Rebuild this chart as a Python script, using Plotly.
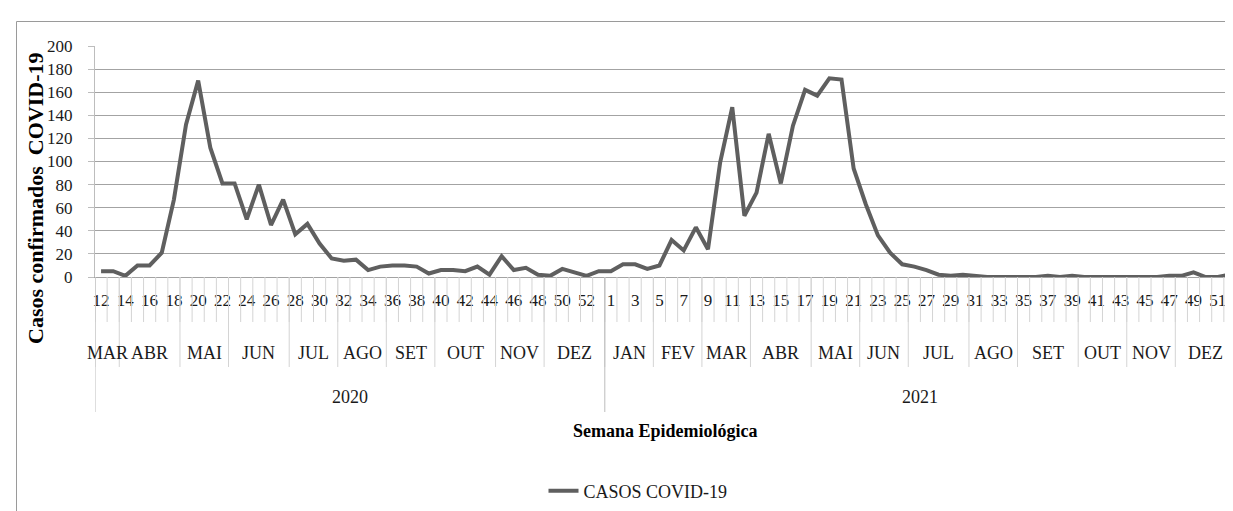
import plotly.graph_objects as go

# ---------------- data ----------------
weeks_2020 = [12, 13, 14, 15, 16, 17, 18, 19, 20, 21, 22, 23, 24, 25, 26, 27, 28, 29, 30, 31,
              32, 33, 34, 35, 36, 37, 38, 39, 40, 41, 42, 43, 44, 45, 46, 47, 48, 49, 50, 51,
              52, 53]
cases_2020 = [5, 5, 1, 10, 10, 21, 67, 132, 170, 112, 81, 81, 50, 80, 45, 67, 37, 46, 29, 16,
              14, 15, 6, 9, 10, 10, 9, 3, 6, 6, 5, 9, 2, 18, 6, 8, 2, 1, 7, 4,
              1, 5]
weeks_2021 = [1, 2, 3, 4, 5, 6, 7, 8, 9, 10, 11, 12, 13, 14, 15, 16, 17, 18, 19, 20,
              21, 22, 23, 24, 25, 26, 27, 28, 29, 30, 31, 32, 33, 34, 35, 36, 37, 38, 39, 40,
              41, 42, 43, 44, 45, 46, 47, 48, 49, 50, 51, 52]
cases_2021 = [5, 11, 11, 7, 10, 32, 23, 43, 24, 99, 147, 53, 73, 124, 81, 131, 162, 157, 172, 171,
              94, 63, 36, 21, 11, 9, 6, 2, 1, 2, 1, 0, 0, 0, 0, 0, 1, 0, 1, 0,
              0, 0, 0, 0, 0, 0, 1, 1, 4, 0, 0, 2]
months_2020 = ["MAR", "ABR", "MAI", "JUN", "JUL", "AGO", "SET", "OUT", "NOV", "DEZ"]
month_weeks_2020 = [2, 5, 4, 5, 4, 4, 4, 5, 4, 5]
months_2021 = ["JAN", "FEV", "MAR", "ABR", "MAI", "JUN", "JUL", "AGO", "SET", "OUT", "NOV", "DEZ"]
month_weeks_2021 = [4, 4, 4, 5, 4, 4, 5, 4, 5, 4, 4, 5]
years = ["2020", "2021"]
series_name = "CASOS COVID-19"
y_ticks = [0, 20, 40, 60, 80, 100, 120, 140, 160, 180, 200]

# ---------------- layout constants ----------------
W, H = 1233, 511
ML, MR, MT, MB = 87, 5, 38, 242
PW, PH = W - ML - MR, H - MT - MB
AXIS_PY = H - MB


def py2paper(py):
    return (AXIS_PY - py) / PH


def px2paper(px):
    return (px - ML) / PW


FONT = "Liberation Serif"
LINE_COLOR = "#5f5f5f"
GRID = "#a3a3a3"
SEP_LIGHT = "#d4d4d4"
SEP_DARK = "#bdbdbd"

y_vals = cases_2020 + cases_2021
x_idx = list(range(len(y_vals)))
week_labels = [str(w) for w in weeks_2020] + [str(w) for w in weeks_2021]

# labelled weeks: every other one inside each year
tickvals, ticktext = [], []
for k, w in enumerate(weeks_2020):
    if k % 2 == 0:
        tickvals.append(k)
        ticktext.append(str(w))
off = len(weeks_2020)
for k, w in enumerate(weeks_2021):
    if k % 2 == 0:
        tickvals.append(off + k)
        ticktext.append(str(w))

fig = go.Figure()
fig.add_trace(go.Scatter(
    x=x_idx, y=y_vals, mode="lines", name=series_name,
    line=dict(color=LINE_COLOR, width=4),
    customdata=week_labels,
    hovertemplate="Semana %{customdata}: %{y}<extra></extra>",
))

shapes = []
annotations = []

# week separators (every category boundary)
for b in range(len(y_vals) + 1):
    shapes.append(dict(type="line", xref="x", yref="paper",
                       x0=b - 0.5, x1=b - 0.5, y0=0, y1=py2paper(314),
                       line=dict(color=SEP_LIGHT, width=1)))

# month labels and separators
start = 0
month_bounds = [0]
for names, counts in ((months_2020, month_weeks_2020), (months_2021, month_weeks_2021)):
    for name, c in zip(names, counts):
        annotations.append(dict(xref="x", yref="paper", x=start + (c - 1) / 2, y=py2paper(345),
                                text=name, showarrow=False, xanchor="center", yanchor="middle",
                                font=dict(family=FONT, size=18, color="#1a1a1a")))
        start += c
        month_bounds.append(start)
for b in month_bounds:
    shapes.append(dict(type="line", xref="x", yref="paper",
                       x0=b - 0.5, x1=b - 0.5, y0=0, y1=py2paper(359),
                       line=dict(color=SEP_LIGHT, width=1)))

# year labels and separators
year_counts = [len(weeks_2020), len(weeks_2021)]
start = 0
year_bounds = [0]
for name, c in zip(years, year_counts):
    annotations.append(dict(xref="x", yref="paper", x=start + (c - 1) / 2, y=py2paper(389),
                            text=name, showarrow=False, xanchor="center", yanchor="middle",
                            font=dict(family=FONT, size=18, color="#1a1a1a")))
    start += c
    year_bounds.append(start)
for b in year_bounds:
    shapes.append(dict(type="line", xref="x", yref="paper",
                       x0=b - 0.5, x1=b - 0.5, y0=0, y1=py2paper(404),
                       line=dict(color=SEP_DARK, width=1)))

# outer chart frame (left and top edges visible)
shapes.append(dict(type="line", xref="paper", yref="paper",
                   x0=px2paper(8.5), x1=px2paper(8.5), y0=py2paper(13.5), y1=py2paper(H + 5),
                   line=dict(color="#9a9a9a", width=1)))
shapes.append(dict(type="line", xref="paper", yref="paper",
                   x0=px2paper(8.5), x1=px2paper(W + 5), y0=py2paper(13.5), y1=py2paper(13.5),
                   line=dict(color="#9a9a9a", width=1)))

# axis titles
annotations.append(dict(xref="paper", yref="paper", x=px2paper(28), y=py2paper(190),
                        text="Casos confirmados\u00a0 COVID-19", textangle=-90, showarrow=False,
                        xanchor="center", yanchor="middle",
                        font=dict(family=FONT, size=22, color="#000000", weight="bold")))
annotations.append(dict(xref="paper", yref="paper", x=0.5, y=py2paper(423),
                        text="Semana Epidemiológica", showarrow=False,
                        xanchor="center", yanchor="middle",
                        font=dict(family=FONT, size=18, color="#000000", weight="bold")))

fig.update_layout(
    width=W, height=H,
    margin=dict(l=ML, r=MR, t=MT, b=MB, pad=0),
    paper_bgcolor="white", plot_bgcolor="white",
    font=dict(family=FONT),
    showlegend=True,
    legend=dict(orientation="h", x=px2paper(630), xanchor="center", y=py2paper(483),
                yanchor="middle", font=dict(family=FONT, size=18, color="#1a1a1a"),
                itemwidth=30, bgcolor="rgba(0,0,0,0)"),
    shapes=shapes,
    annotations=annotations,
    xaxis=dict(range=[-0.5, len(y_vals) - 0.5], tickmode="array", tickvals=tickvals,
               ticktext=ticktext, ticks="", showgrid=False, zeroline=False,
               showline=True, linecolor=GRID, linewidth=1, ticklabelstandoff=8,
               tickfont=dict(family=FONT, size=17, color="#1a1a1a"), fixedrange=True),
    yaxis=dict(range=[0, 200], tickmode="array", tickvals=y_ticks, showgrid=True,
               gridcolor=GRID, gridwidth=1, zeroline=False, showline=True,
               linecolor=SEP_DARK, linewidth=1, ticks="outside", ticklen=6, tickcolor=SEP_DARK,
               ticklabelstandoff=12, tickfont=dict(family=FONT, size=17, color="#1a1a1a"),
               fixedrange=True),
)

fig.write_html("out.html")
